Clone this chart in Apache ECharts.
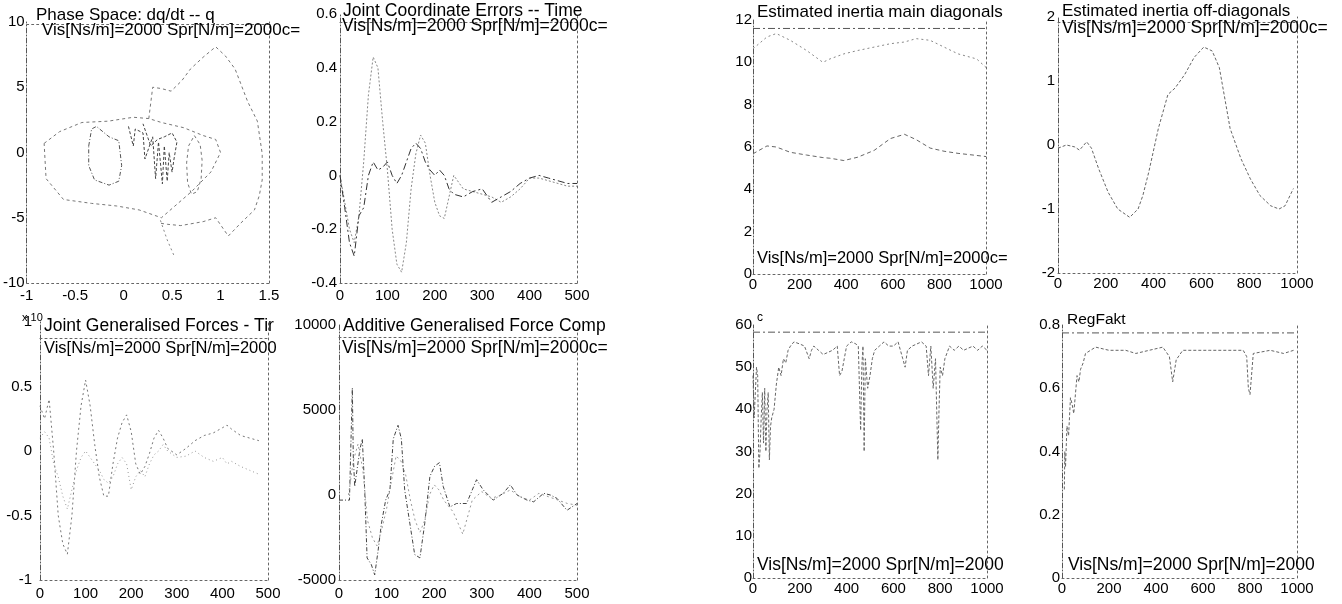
<!DOCTYPE html>
<html><head><meta charset="utf-8">
<script src="https://cdn.jsdelivr.net/npm/echarts@6/dist/echarts.min.js"></script>
<style>html,body{margin:0;padding:0;background:#fff}#c{width:1342px;height:604px}</style>
</head><body><div id="c"></div>
<script>
// ---------- Panel A: Phase Space dq/dt -- q ----------
const phaseLoopQ = [-0.82,-0.66,-0.43,-0.16,0.10,0.26,0.39,0.62,0.82,0.95,1.0,0.9,0.7,0.39,0.16,-0.07,-0.33,-0.62,-0.80,-0.82];
const phaseLoopV = [0.7,1.6,2.3,2.4,2.7,2.6,2.3,1.9,1.3,1.0,0.0,-1.5,-3.0,-5.0,-4.4,-4.1,-3.9,-3.6,-2.0,0.7];
const phaseOuterQ = [0.26,0.28,0.30,0.39,0.49,0.60,0.69,0.82,0.95,1.05,1.15,1.28,1.38,1.43,1.43,1.40,1.35,1.21,1.08,0.95,0.82,0.59,0.45,0.36];
const phaseOuterV = [2.6,3.8,5.0,4.9,4.7,5.5,6.4,7.3,8.1,7.4,6.4,3.9,2.4,-0.1,-2.1,-3.3,-4.4,-5.4,-6.4,-5.0,-5.3,-5.6,-5.5,-5.4];
const phaseInnerQ = [-0.36,-0.33,-0.28,-0.15,-0.05,-0.02,-0.05,-0.15,-0.30,-0.36,-0.36];
const phaseInnerV = [0.5,1.8,2.0,1.2,0.9,-1.0,-2.2,-2.5,-2.1,-1.0,0.5];
const phaseEllipseQ = [0.73,0.79,0.81,0.80,0.76,0.70,0.66,0.65,0.67,0.73];
const phaseEllipseV = [1.3,0.6,-0.6,-2.0,-3.0,-3.2,-2.3,-0.8,0.5,1.3];
const phaseCoreQ = [0.05,0.10,0.12,0.20,0.22,0.30,0.33,0.36,0.40,0.42,0.45,0.47,0.50,0.52,0.55,0.50,0.42,0.35,0.28,0.20];
const phaseCoreV = [2.0,0.5,1.8,1.5,-0.5,1.2,-2.0,0.8,-2.4,0.5,-2.2,0.0,-1.5,-0.5,0.8,1.5,1.2,1.0,0.5,2.2];
const phaseDipQ = [0.38,0.45,0.52];
const phaseDipV = [-5.2,-6.7,-7.9];

// ---------- Panel B: Joint Coordinate Errors -- Time ----------
const errT = [0,10,20,30,40,50,60,70,80,90,100,110,120,130,140,150,160,170,180,190,200,210,220,230,240,260,280,300,320,340,360,380,400,420,440,460,480,500];
const errJ1 = [0,-0.1,-0.2,-0.25,-0.15,0.05,0.3,0.44,0.40,0.2,0.02,-0.2,-0.33,-0.36,-0.25,-0.05,0.08,0.15,0.12,0.0,-0.1,-0.15,-0.16,-0.08,0.0,-0.05,-0.06,-0.07,-0.08,-0.1,-0.08,-0.05,-0.01,-0.01,-0.02,-0.03,-0.04,-0.04];
const errJ2 = [0,-0.12,-0.25,-0.3,-0.15,-0.12,0.0,0.05,0.02,0.03,0.05,0.0,-0.03,0.0,0.05,0.1,0.12,0.1,0.05,0.02,0.0,0.02,0.0,-0.05,-0.07,-0.08,-0.06,-0.05,-0.1,-0.08,-0.06,-0.03,-0.01,0.0,-0.01,-0.02,-0.03,-0.03];

// ---------- Panel C: Joint Generalised Forces (x 10^4) ----------
const forceT = [0,10,20,30,40,50,60,70,80,90,100,110,120,130,140,150,160,170,180,190,200,210,220,230,240,250,260,270,280,300,320,340,360,380,400,410,420,440,460,480];
const forceJ1 = [0.35,0.25,0.4,0.0,-0.5,-0.72,-0.8,-0.5,0.0,0.35,0.55,0.35,0.05,-0.2,-0.35,-0.35,-0.1,0.1,0.22,0.28,0.15,-0.1,-0.18,-0.12,-0.02,0.1,0.16,0.1,0.02,-0.03,0.02,0.08,0.12,0.14,0.18,0.2,0.17,0.12,0.1,0.08];
const forceJ2 = [0.1,0.15,0.1,-0.1,-0.2,-0.35,-0.45,-0.3,-0.15,-0.05,0.0,-0.05,-0.1,-0.15,-0.22,-0.25,-0.2,-0.1,-0.05,-0.1,-0.3,-0.2,-0.15,-0.2,-0.1,-0.03,0.0,0.05,0.0,-0.05,-0.04,0.0,-0.05,-0.08,-0.05,-0.1,-0.08,-0.12,-0.15,-0.18];

// ---------- Panel D: Additive Generalised Force Comp ----------
const addT = [0,15,22,28,30,33,38,44,49,54,59,68,75,82,89,98,107,114,124,131,138,149,159,170,180,191,201,211,219,233,247,268,289,303,324,345,360,374,395,409,430,444,458,479,500];
const addJ1 = [-300,-300,-300,6300,2300,500,1500,2700,3300,300,-3700,-4100,-4700,-3300,-1700,-300,300,3300,4100,3300,300,-1700,-3500,-3700,-1700,1100,1700,1900,500,-700,-500,-500,900,300,-300,100,600,0,-300,-400,100,0,-200,-900,-500];
const addT2 = [20,30,40,50,60,70,80,90,100,110,120,130,140,150,160,170,180,190,200,210,220,240,260,280,300,320,340,360,380,400,420,440,460,480,500];
const addJ2 = [0,2000,3000,1500,-1500,-2500,-3000,-2000,-800,800,2300,2000,1200,-300,-1500,-2200,-1500,0,600,300,-300,-1000,-2300,-300,200,-200,0,300,-100,-300,100,-100,-300,-500,-600];

// ---------- Panel E: Estimated inertia main diagonals ----------
const inertiaT = [0,60,100,160,230,300,330,390,450,520,590,650,700,760,820,880,960,1000];
const diagUpper = [10.64,11.2,11.36,11.04,10.56,10.0,10.16,10.4,10.56,10.72,10.88,10.96,11.12,11.04,10.72,10.4,10.16,9.76];
const diagLower = [5.68,6.05,6.0,5.75,5.62,5.5,5.47,5.36,5.52,5.84,6.4,6.6,6.35,5.95,5.8,5.7,5.6,5.55];
const diagThirdT = [0,1000];
const diagThird = [11.6,11.6];

// ---------- Panel F: Estimated inertia off-diagonals ----------
const offT = [0,35,70,90,120,140,170,210,250,300,335,355,380,420,460,490,530,570,610,645,675,695,720,765,805,845,890,925,950,985];
const offDiag = [-0.05,0.0,-0.03,-0.08,0.05,-0.05,-0.37,-0.74,-1.0,-1.13,-1.0,-0.79,-0.42,0.26,0.79,0.89,1.1,1.37,1.53,1.47,1.21,0.79,0.26,-0.21,-0.53,-0.79,-0.95,-1.0,-0.95,-0.68];

// ---------- Panel G: c ----------
const cT = [0,5,10,15,20,25,30,35,40,45,50,55,60,65,70,75,80,90,100,110,120,130,140,150,160,175,200,220,240,250,260,280,300,320,340,360,370,380,390,400,420,440,450,460,465,470,475,480,490,500,510,520,540,560,580,600,620,640,650,660,680,700,720,740,750,760,770,780,790,795,800,810,820,840,860,880,900,920,940,960,980,1000];
const cVal = [48,38,44,50,48,26,30,38,44,32,45,30,40,44,28,36,38,40,46,50,48,52,51,54,55,56,55.5,55,52,54,55,54,53,53.5,54,55,48,49,52,55,56,55.5,55,35,50,55,30,52,45,48,52,54,55,56,55,55,56,52,50,54,55,55.5,56,55,48,55,45,52,28,40,50,48,52,55,54,55,54,54.5,55,54,55,54];
const cLimitT = [0,1000];
const cLimit = [58.3,58.3];

// ---------- Panel H: RegFakt ----------
const regT = [10,12,15,21,28,36,43,50,57,64,72,79,90,100,143,200,271,314,371,429,457,471,486,514,571,629,700,771,786,793,800,814,886,943,986];
const regVal = [0.28,0.4,0.35,0.48,0.45,0.57,0.55,0.52,0.58,0.64,0.62,0.66,0.68,0.71,0.73,0.72,0.72,0.71,0.72,0.73,0.70,0.62,0.69,0.72,0.72,0.72,0.72,0.72,0.70,0.60,0.58,0.71,0.72,0.71,0.72];
const regLimitT = [0,1000];
const regLimit = [0.775,0.775];

// ---------- tick settings ----------
const phaseXTicks = [-1, 1.5, 0.5], phaseYTicks = [-10, 10, 5];
const timeTicks500 = [0, 500, 100], timeTicks1000 = [0, 1000, 200];

const SUB = 'Vis[Ns/m]=2000 Spr[N/m]=2000c=';
const SUB2 = 'Vis[Ns/m]=2000 Spr[N/m]=2000';
const FONT = '"Liberation Sans", Arial, Helvetica, sans-serif';

function zip(a, b) { return a.map((v, i) => [v, b[i]]); }
function S(x, y, color, dash, w) { return { x, y, color, dash, w: w || 1 }; }
const DD = [7,3,2,3];

const panels = [
  { box:[18,22,269,283], x:phaseXTicks, y:phaseYTicks, over:-2, ym:2, xm:5,
    series:[S(phaseLoopQ,phaseLoopV,'#777',[3,3]), S(phaseOuterQ,phaseOuterV,'#777',[3,3]),
            S(phaseInnerQ,phaseInnerV,'#555',[4,2,1,2]), S(phaseEllipseQ,phaseEllipseV,'#777',[3,3]),
            S(phaseCoreQ,phaseCoreV,'#444',[3,2]), S(phaseDipQ,phaseDipV,'#888',[2,3])] },
  { box:[340,14,577,283], x:timeTicks500, y:[-0.4,0.6,0.2], over:-8, ym:3, xm:5,
    series:[S(errT,errJ1,'#888',[2,2]), S(errT,errJ2,'#333',DD)] },
  { box:[40,322,268,580], x:timeTicks500, y:[-1,1,0.5], over:-16, ym:8, xm:6,
    series:[S(forceT,forceJ1,'#777',[2,3]), S(forceT,forceJ2,'#999',[1,3])] },
  { box:[339,325,577,580], x:timeTicks500, y:[-5000,10000,5000], over:-12, ym:3, xm:6,
    series:[S(addT,addJ1,'#444',[4,2,1,2]), S(addT2,addJ2,'#999',[2,3])] },
  { box:[753,20,986,274], x:timeTicks1000, y:[0,12,2], over:null, ym:1, xm:3,
    series:[S(diagThirdT,diagThird,'#555',DD), S(inertiaT,diagUpper,'#888',[2,3]), S(inertiaT,diagLower,'#666',[4,3])] },
  { box:[1058,17,1297,273], x:timeTicks1000, y:[-2,2,1], over:-5, ym:3, xm:3,
    series:[S(offT,offDiag,'#666',[3,2])] },
  { box:[753,325,987,578], x:timeTicks1000, y:[0,60,10], over:null, ym:1, xm:3,
    series:[S(cLimitT,cLimit,'#555',DD), S(cT,cVal,'#666',[3,2])] },
  { box:[1062,325,1297,578], x:timeTicks1000, y:[0,0.8,0.2], over:null, ym:2, xm:3,
    series:[S(regLimitT,regLimit,'#555',DD), S(regT,regVal,'#666',[3,2])] }
];

const texts = [
  ['Phase Space: dq/dt -- q', 36, 16, 17], [SUB, 42, 31, 17],
  ['Joint Coordinate Errors -- Time', 343, 11, 17.5], [SUB, 342, 26, 17.5],
  ['x 10', 22, 318, 11], ['Joint Generalised Forces - Tir', 44, 326, 17.5], [SUB2, 44, 348, 16.5],
  ['Additive Generalised Force Comp', 343, 326, 17.5], [SUB, 342, 348, 17.5],
  ['Estimated inertia main diagonals', 757, 13, 17], [SUB, 757, 258, 16.5],
  ['Estimated inertia off-diagonals', 1062, 12, 17], [SUB, 1062, 28, 17.5],
  ['c', 757, 318, 12], [SUB2, 757, 565, 17.5],
  ['RegFakt', 1067, 320, 15.5], [SUB2, 1068, 565, 17.5]
];

const fmt = v => String(parseFloat(Number(v).toFixed(3)));
const grid = [], xAxis = [], yAxis = [], series = [];
const dotted = { color:'#666', width:1, type:[2,3] };
const dashdot = { color:'#555', width:1, type:[5,2,1,2] };

panels.forEach((p, i) => {
  const [L,T,R,B] = p.box;
  grid.push({ left:L, top:T, width:R-L, height:B-T });
  const xi = xAxis.length;
  xAxis.push({ gridIndex:i, type:'value', position:'bottom', min:p.x[0], max:p.x[1], interval:p.x[2],
    axisLine:{ show:true, onZero:false, lineStyle:dotted }, axisTick:{ show:false }, splitLine:{ show:false },
    axisLabel:{ color:'#000', fontSize:15, fontFamily:FONT, margin:p.xm, formatter:fmt, showMinLabel:true, showMaxLabel:true } });
  if (p.over !== null) {
    xAxis.push({ gridIndex:i, type:'value', position:'top', offset:p.over, min:p.x[0], max:p.x[1],
      axisLine:{ show:true, onZero:false, lineStyle:dotted }, axisTick:{ show:false }, splitLine:{ show:false }, axisLabel:{ show:false } });
  }
  const yi = yAxis.length;
  yAxis.push({ gridIndex:i, type:'value', position:'left', min:p.y[0], max:p.y[1], interval:p.y[2],
    axisLine:{ show:true, onZero:false, lineStyle:dashdot }, axisTick:{ show:false }, splitLine:{ show:false },
    axisLabel:{ color:'#000', fontSize:15, fontFamily:FONT, margin:p.ym, formatter:fmt, showMinLabel:true, showMaxLabel:true } });
  yAxis.push({ gridIndex:i, type:'value', position:'right', min:p.y[0], max:p.y[1],
    axisLine:{ show:true, onZero:false, lineStyle:dotted }, axisTick:{ show:false }, splitLine:{ show:false }, axisLabel:{ show:false } });
  p.series.forEach(s => {
    series.push({ type:'line', xAxisIndex:xi, yAxisIndex:yi, data:zip(s.x, s.y), symbol:'none', showSymbol:false,
      lineStyle:{ color:s.color, width:s.w, type:s.dash }, silent:true, clip:false });
  });
});

const title = texts.map(t => ({ text:t[0], left:t[1], top:t[2] - t[3]*0.6, padding:0,
  textStyle:{ color:'#000', fontSize:t[3], fontWeight:'normal', fontFamily:FONT, lineHeight:Math.round(t[3]*1.2) } }));

const chart = echarts.init(document.getElementById('c'), null, { renderer:'canvas' });
chart.setOption({ animation:false, backgroundColor:'#fff', title, grid, xAxis, yAxis, series });
</script>
</body></html>
